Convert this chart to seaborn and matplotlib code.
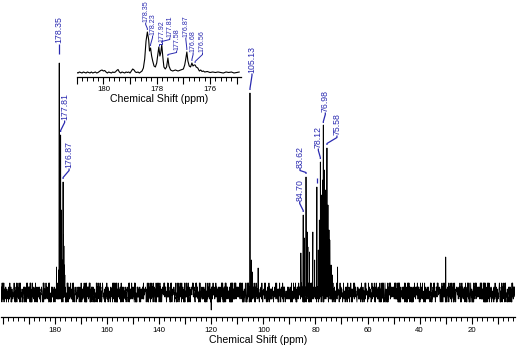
import numpy as np
import pandas as pd
import matplotlib.pyplot as plt
import seaborn as sns
from matplotlib.ticker import MultipleLocator, FuncFormatter

# --- data -----------------------------------------------------------------
# baseline noise of the 13C spectrum, one code per point (estimated by eye)
noise_codes = (
    "46357284615397426358147296534871625394817256349172853641975234681529374615823746"
    "53816274935162847395261748352916473852619374825163947258361492735841627395184273"
    "64273518496325714863952741836295174638257194362857413962587134692857316482957341"
    "35827461953284716395248176395824617358249637158249673518426937518264973582461735"
    "72648351962748315964827351694825371649283576149238576142938657413928657134298576"
    "48162937546183927546128374659182734561928374651827364519283746518293746152837465"
    "91735264815372649183527364918253746182537469152837461925384761925348716253948172"
    "36528417936452871693452817639458271639542817365942817365492813765429183765248193"
    "57284619375842619375284163957248613975284136597248163597428136597842316579824316"
    "64938271564938215769483251769438215976432158976423158976432185976423185796423158"
)
noise_px = {'1': -12, '2': -9, '3': -7, '4': -5, '5': -3,
            '6': -1, '7': 1, '8': 3, '9': 7}

# peaks of the full spectrum (ppm, height above baseline)
peak_ppm = [179.40, 178.60, 178.35, 178.23, 178.10, 177.92, 177.81, 177.70, 177.58,
            177.20, 176.87, 176.68, 176.56, 176.40, 176.20,
            105.13, 104.60, 104.20, 102.00,
            85.60, 84.70, 84.25, 83.62, 83.20, 82.90, 82.30, 81.00, 80.30, 79.45,
            78.90, 78.50, 78.12, 77.60, 77.30, 76.98, 76.60, 76.20, 75.58, 75.20,
            74.80, 74.50, 74.00, 73.50, 71.50, 30.00, 120.00]
peak_height = [23, 20, 227, 140, 60, 140, 155, 62, 80,
               30, 108, 55, 44, 25, 15,
               197, 30, 18, 22,
               37, 75, 52, 113, 58, 43, 38, 58, 30, 103,
               40, 70, 128, 95, 110, 165, 120, 100, 142, 85,
               60, 50, 25, 15, 23, 33, -20]

label_ppm = [178.35, 177.81, 176.87, 105.13, 84.70, 83.62, 78.12, 76.98, 75.58]
label_text = ["178.35", "177.81", "176.87", "105.13", "84.70", "83.62",
              "78.12", "76.98", "75.58"]

# inset: carbonyl region 181-175 ppm
inset_ppm = [181.00, 180.95, 180.90, 180.85, 180.80, 180.75, 180.70, 180.65, 180.60,
             180.55, 180.50, 180.45, 180.40, 180.35, 180.30, 180.25, 180.20, 180.15,
             180.10, 180.05, 180.00, 179.95, 179.90, 179.85, 179.80, 179.75, 179.70,
             179.65, 179.60, 179.55, 179.50, 179.45, 179.40, 179.35, 179.30, 179.25,
             179.20, 179.15, 179.10, 179.05, 179.00, 178.95, 178.90, 178.85, 178.80,
             178.75, 178.70, 178.65, 178.60, 178.55,
             178.50, 178.45, 178.40, 178.35, 178.30, 178.27, 178.23, 178.19, 178.15,
             178.10, 178.05, 178.00, 177.96, 177.92, 177.88, 177.85, 177.81, 177.77,
             177.73, 177.68, 177.63, 177.58, 177.54, 177.48, 177.40, 177.30, 177.20,
             177.10, 177.00, 176.95, 176.91, 176.87, 176.83, 176.78, 176.73, 176.68,
             176.64, 176.60, 176.56, 176.52, 176.46, 176.40, 176.35, 176.30, 176.25,
             176.20, 176.10, 176.00, 175.90, 175.80, 175.70, 175.60, 175.50, 175.40,
             175.30, 175.20, 175.10, 175.00, 174.90]
inset_height = [0.5, 0, 1, 0.5, 0, 1, 0.5, 0, 1,
                0.5, 0, 1, 0, 0.5, 1, 0, 0.5, 1.5,
                2.5, 3, 2, 2.5, 1, 0, 1, 0.5, 0,
                1, 0.5, 1, 2.5, 3.5, 1, 0, 1, 0.5,
                0, 1, 0.5, 1, 0, 2, 4, 3, 1,
                0.5, 1, 0, 1, 2,
                5, 14, 32, 41, 33, 22, 25, 17, 12,
                7, 6, 10, 18, 26, 17, 20, 28, 16,
                6, 4, 6, 15, 7, 3, 2, 3, 2,
                3, 4, 8, 14, 21, 12, 7, 6, 10,
                7, 8, 8, 6, 5, 2, 3, 1.5, 2,
                1, 1.5, 0.5, 1, 0.5, 1, 0.5, 0, 1,
                0.5, 1, 0, 0.5, 1]
inset_label_ppm = [178.35, 178.23, 177.92, 177.81, 177.58, 176.87, 176.68, 176.56]
inset_label_text = ["178.35", "178.23", "177.92", "177.81", "177.58",
                    "176.87", "176.68", "176.56"]

# --- layout ---------------------------------------------------------------
W, H = 520, 349
BLUE = '#2a2ab0'
main_pxpp = 514 / (200.7 - 3.4)
inset_pxpp = 164 / (181.0 - 174.85)
# (dx of text in px, text bottom height, gap above peak)
main_layout = [(0, 247, 9), (4, 170, 3), (6, 122, 3), (2, 217, 3), (-3.5, 89, 3),
               (-6, 122, 3), (-2, 142, 3), (2, 178, 2), (10, 155, 3)]
inset_layout = [(-1.7, 51, 2), (2, 38, 2), (3.4, 31, 1), (8, 36, 2), (8.7, 23, 2),
                (-1, 36, 2), (1.2, 21, 2), (7.4, 21, 2)]

sns.set_theme(style="white")
plt.rcParams['font.family'] = ['Liberation Sans', 'DejaVu Sans']
plt.rcParams['text.color'] = 'black'
plt.rcParams['xtick.color'] = 'black'
plt.rcParams['axes.labelcolor'] = 'black'
plt.rcParams['axes.edgecolor'] = 'black'


def mark(ax, ppm, h, text, dx, tb, gap, pxpp, fs, lw):
    xt = ppm - dx / pxpp
    ax.plot([ppm, ppm, xt, xt], [h + gap, h + gap + 1.5, tb - 2.5, tb - 0.5],
            color=BLUE, lw=lw, solid_capstyle='butt')
    if text:
        ax.text(xt, tb, text, rotation=90, ha='center', va='bottom',
                fontsize=fs, color=BLUE)


def style_axis(ax, major, minor, label_every, lo, hi, fs_tick, fs_lab, pad, labpad):
    for s in ['left', 'top', 'right']:
        ax.spines[s].set_visible(False)
    ax.spines['bottom'].set_linewidth(0.9)
    ax.set_yticks([])
    ax.set_ylabel('')
    ax.xaxis.set_major_locator(MultipleLocator(major))
    ax.xaxis.set_minor_locator(MultipleLocator(minor))
    ax.xaxis.set_major_formatter(FuncFormatter(
        lambda v, _: f"{v:.0f}"
        if abs(round(v) % label_every) < 1e-6 and lo <= v <= hi else ""))
    ax.tick_params(axis='x', which='major', bottom=True, direction='out',
                   length=5, width=0.8, labelsize=fs_tick, pad=pad)
    ax.tick_params(axis='x', which='minor', bottom=True, direction='out',
                   length=3, width=0.7)
    ax.set_xlabel('Chemical Shift (ppm)', fontsize=fs_lab, labelpad=labpad)


fig = plt.figure(figsize=(W / 100, H / 100), dpi=100)

# main spectrum: the noise codes are read forwards, backwards and shifted
codes = noise_codes + noise_codes[::-1] + noise_codes[400:] + noise_codes[:400]
codes = "".join(codes[i::3] for i in range(3))
base_ppm = np.linspace(200.6, 3.4, len(codes))
base_y = [noise_px[c] for c in codes]
ax = fig.add_axes([1 / W, 32 / H, 514 / W, 317 / H])
spec = pd.DataFrame({'ppm': np.r_[base_ppm, peak_ppm],
                     'y': np.r_[base_y, peak_height]})
spec = spec.sort_values('ppm', ascending=False)
sns.lineplot(data=spec, x='ppm', y='y', sort=False, estimator=None,
             color='black', lw=0.6, ax=ax)
ax.set_xlim(200.7, 3.4)
ax.set_ylim(-27, 290)
style_axis(ax, 10, 2, 20, 20, 180, 5.6, 7.6, 2, 1)

heights = dict(zip(peak_ppm, peak_height))
for p, t, (dx, tb, gap) in zip(label_ppm, label_text, main_layout):
    mark(ax, p, heights[p], t, dx, tb, gap, main_pxpp, 6.3, 0.9)
mark(ax, 79.45, heights[79.45], None, 0, 113, 4, main_pxpp, 6.3, 0.9)

# inset
axi = fig.add_axes([76.7 / W, (H - 77.3) / H, 164 / W, 77.3 / H])
axi.patch.set_alpha(0)
ins = pd.DataFrame({'ppm': inset_ppm, 'y': inset_height})
sns.lineplot(data=ins, x='ppm', y='y', sort=False, estimator=None,
             color='black', lw=0.8, ax=axi)
axi.set_xlim(181.0, 174.85)
axi.set_ylim(-4.3, 73)
style_axis(axi, 1, 0.2, 2, 176, 180, 5.6, 7.6, 1.5, 0.5)

iheights = dict(zip(inset_ppm, inset_height))
for p, t, (dx, tb, gap) in zip(inset_label_ppm, inset_label_text, inset_layout):
    mark(axi, p, iheights[p], t, dx, tb, gap, inset_pxpp, 5.1, 0.7)

fig.savefig('out.png', dpi=100)
